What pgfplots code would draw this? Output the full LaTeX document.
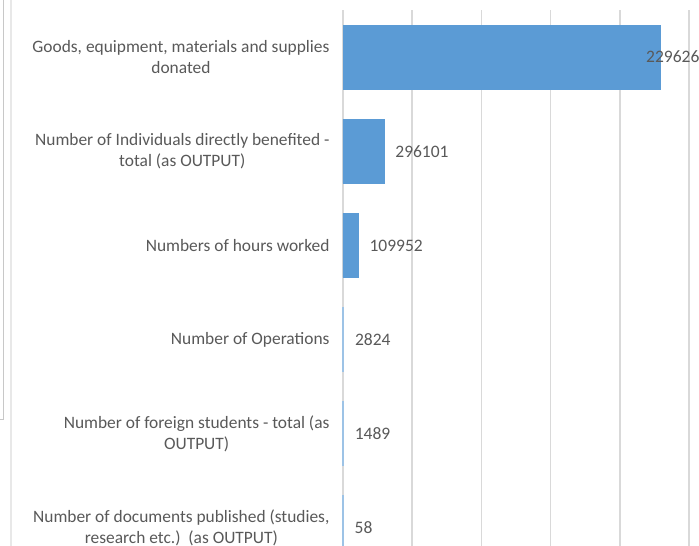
\documentclass[border=0pt]{standalone}
\usepackage{pgfplots}
\pgfplotsset{compat=1.18}
\usepackage{fontspec}
\setmainfont{Carlito}
\definecolor{barblue}{HTML}{5B9BD5}
\definecolor{txt}{HTML}{595959}
\definecolor{gridc}{HTML}{D9D9D9}
\definecolor{frame1}{HTML}{C8C8C8}
\definecolor{frame2}{HTML}{E8E8E8}
\begin{document}
\begin{tikzpicture}[x=1pt,y=1pt]
\useasboundingbox (0,0) rectangle (699,-546);
\clip (0,0) rectangle (699,-546);
\fill[white] (0,0) rectangle (699,-546);
\draw[frame1, line width=1pt] (3,0) -- (3,-419) -- (0,-419);
\draw[frame2, line width=1.5pt] (11,0) -- (11,-546);
\begin{axis}[
  at={(343pt,-10pt)}, anchor=north west,
  scale only axis, width=346pt, height=565pt,
  xbar, bar width=64pt, bar shift=0pt,
  xmin=0, xmax=2500000,
  ymin=-0.5, ymax=5.5, y dir=reverse,
  xtick={0,500000,1000000,1500000,2000000,2500000},
  xticklabels={},
  xmajorgrids,
  major grid style={gridc, line width=1.5pt},
  axis line style={draw=none},
  ytick={0,1,2,3,4,5},
  yticklabels={
    {Goods, equipment, materials and supplies\\donated},
    {Number of Individuals directly benefited -\\total (as OUTPUT)},
    {Numbers of hours worked},
    {Number of Operations},
    {Number of foreign students - total (as\\OUTPUT)},
    {Number of documents published (studies,\\research etc.)~~(as OUTPUT)}
  },
  yticklabel style={font=\fontsize{17.4}{21}\selectfont, text=txt, align=center, xshift=-10pt},
  major tick length=0pt,
  clip=false,
  point meta=explicit symbolic,
  nodes near coords,
  every node near coord/.append style={font=\fontsize{17.5}{21}\selectfont, text=txt, anchor=west, inner sep=2pt, xshift=9pt},
]
\addplot[fill=barblue, draw=barblue, line width=0.8pt] table[x=v, y=i, meta=lab] {
i v lab
1 296101 296101
2 109952 109952
};
\addplot[fill=barblue, draw=barblue!60, line width=1.3pt] table[x=v, y=i, meta=lab] {
i v lab
3 2824 2824
4 1489 1489
5 58 58
};
\addplot[fill=barblue, draw=barblue, line width=0.8pt,
  every node near coord/.append style={xshift=-26pt}] table[x=v, y=i, meta=lab] {
i v lab
0 2296260 2296260
};
\end{axis}
\end{tikzpicture}
\end{document}
